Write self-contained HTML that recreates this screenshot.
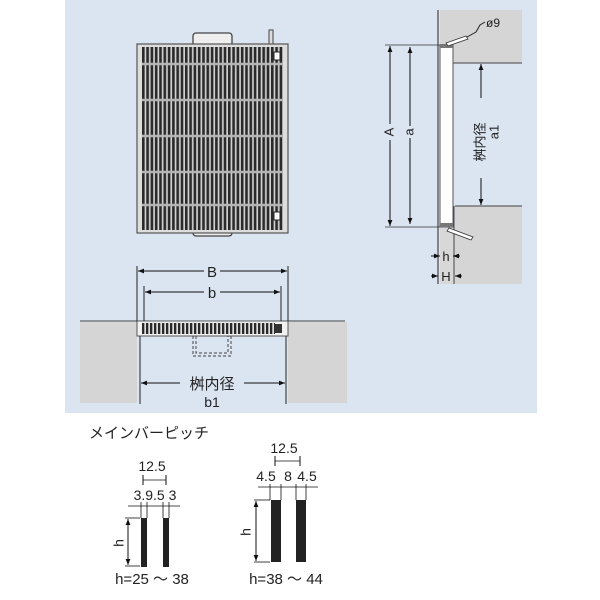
<!DOCTYPE html>
<html><head><meta charset="utf-8"><style>
body{margin:0;background:#fff}
svg{display:block}
text{font-family:"Liberation Sans","Noto Sans CJK JP",sans-serif;fill:#222}
</style></head><body>
<svg width="600" height="600" viewBox="0 0 600 600" xmlns="http://www.w3.org/2000/svg">
<defs>
<marker id="ar" viewBox="0 0 10 10" refX="10" refY="5" markerWidth="6" markerHeight="6" orient="auto-start-reverse"><path d="M0,1 L10,5 L0,9 z" fill="#111"/></marker>
<pattern id="vb" x="142" y="0" width="4.3" height="10" patternUnits="userSpaceOnUse"><rect width="4.3" height="10" fill="#d0d0d0"/><rect x="0" width="2.6" height="10" fill="#2a2a2a"/></pattern>
<pattern id="vb2" x="142" y="0" width="4" height="10" patternUnits="userSpaceOnUse"><rect width="4" height="10" fill="#ddd"/><rect x="0" width="2.3" height="10" fill="#2a2a2a"/></pattern>
</defs>
<rect x="65" y="0" width="472" height="413" fill="#dbe5f1"/>

<!-- top view grating -->
<rect x="193" y="33" width="39" height="13" rx="3" fill="#eee" stroke="#444" stroke-width="1.3"/>
<rect x="193" y="224" width="39" height="12" rx="3" fill="#eee" stroke="#444" stroke-width="1.3"/>
<rect x="269" y="30" width="4" height="14" fill="#ddd" stroke="#444" stroke-width="1"/>
<rect x="137" y="44" width="151" height="189" fill="#ddd" stroke="#555" stroke-width="1.2"/>
<rect x="142" y="47" width="141" height="183" fill="url(#vb)"/>
<g stroke="#b5b5b5" stroke-width="2.5">
<line x1="142" y1="64" x2="283" y2="64"/><line x1="142" y1="100" x2="283" y2="100"/>
<line x1="142" y1="136" x2="283" y2="136"/><line x1="142" y1="172" x2="283" y2="172"/>
<line x1="142" y1="205" x2="283" y2="205"/></g>
<rect x="274" y="52" width="6" height="8" fill="#fff" stroke="#222"/>
<rect x="274" y="212" width="6" height="8" fill="#fff" stroke="#222"/>

<!-- side view -->
<rect x="440" y="10" width="82" height="35" fill="#d5d5d5"/>
<rect x="453" y="45" width="69" height="18" fill="#d5d5d5"/>
<rect x="455" y="206" width="67" height="78" fill="#d5d5d5"/>
<rect x="440" y="228" width="15" height="56" fill="#d8d8d8"/>
<line x1="438" y1="10" x2="438" y2="284" stroke="#444" stroke-width="1.2"/>
<line x1="453" y1="63" x2="522" y2="63" stroke="#444"/>
<line x1="455" y1="206" x2="522" y2="206" stroke="#444"/>
<line x1="454" y1="206" x2="454" y2="284" stroke="#444"/>
<rect x="440" y="45" width="13" height="182" fill="#fff" stroke="#555"/>
<rect x="440" y="44" width="13" height="4" fill="#777"/>
<rect x="440" y="223" width="13" height="4" fill="#777"/>
<path d="M446,43 L466,36 L468,39 L448,46z" fill="#fff" stroke="#333" stroke-width="0.8"/>
<path d="M449,228 L473,237 L471,240 L447,231z" fill="#fff" stroke="#333" stroke-width="0.8"/>
<polyline points="467,37 476,32 480,25 485,22" fill="none" stroke="#222"/>
<text x="486" y="27" font-size="12">ø9</text>
<g stroke="#333" stroke-width="0.8"><line x1="385" y1="45" x2="440" y2="45"/><line x1="385" y1="227" x2="440" y2="227"/></g>
<line x1="390" y1="46" x2="390" y2="226" stroke="#111" marker-start="url(#ar)" marker-end="url(#ar)"/>
<line x1="410" y1="47" x2="410" y2="224" stroke="#111" marker-start="url(#ar)" marker-end="url(#ar)"/>
<rect x="384" y="124" width="12" height="16" fill="#dbe5f1"/>
<text x="390" y="132" font-size="13" transform="rotate(-90 390 132)" text-anchor="middle" dominant-baseline="middle">A</text>
<rect x="404" y="126" width="12" height="12" fill="#dbe5f1"/>
<text x="410" y="132" font-size="13" transform="rotate(-90 410 132)" text-anchor="middle" dominant-baseline="middle">a</text>
<line x1="481" y1="64" x2="481" y2="205" stroke="#111" marker-start="url(#ar)" marker-end="url(#ar)"/>
<rect x="473" y="98" width="30" height="80" fill="#dbe5f1"/>
<text x="481" y="142" font-size="13" transform="rotate(-90 481 142)" text-anchor="middle" dominant-baseline="middle">桝内径</text>
<text x="495" y="132" font-size="13" transform="rotate(-90 495 132)" text-anchor="middle" dominant-baseline="middle">a1</text>
<line x1="431" y1="256" x2="440" y2="256" stroke="#111" marker-end="url(#ar)"/>
<line x1="460" y1="256" x2="453" y2="256" stroke="#111" marker-end="url(#ar)"/>
<text x="446" y="261" font-size="13" text-anchor="middle">h</text>
<line x1="431" y1="276" x2="438" y2="276" stroke="#111" marker-end="url(#ar)"/>
<line x1="462" y1="276" x2="455" y2="276" stroke="#111" marker-end="url(#ar)"/>
<text x="446" y="281" font-size="13" text-anchor="middle">H</text>

<!-- section view -->
<rect x="80" y="322" width="57" height="81" fill="#d5d5d5"/>
<rect x="288" y="322" width="59" height="81" fill="#d5d5d5"/>
<line x1="80" y1="321" x2="345" y2="321" stroke="#444"/>
<rect x="137" y="321" width="151" height="15" fill="#f2f2f2" stroke="#555"/>
<rect x="142" y="323" width="133" height="11" fill="url(#vb2)"/>
<rect x="275" y="324" width="7" height="9" fill="#333"/>
<path d="M193,336 V356 H231 V336" fill="none" stroke="#444" stroke-dasharray="3,2"/>
<path d="M196,336 V353 H228 V336" fill="none" stroke="#444" stroke-dasharray="3,2"/>
<g stroke="#222" stroke-width="1">
<line x1="137" y1="266" x2="137" y2="321"/><line x1="288" y1="266" x2="288" y2="321"/>
<line x1="144" y1="286" x2="144" y2="321"/><line x1="281" y1="286" x2="281" y2="321"/>
<line x1="140" y1="336" x2="140" y2="404"/><line x1="286" y1="336" x2="286" y2="404"/></g>
<line x1="138" y1="271" x2="287" y2="271" stroke="#111" marker-start="url(#ar)" marker-end="url(#ar)"/>
<rect x="204" y="263" width="16" height="16" fill="#dbe5f1"/><text x="212" y="277" font-size="15" text-anchor="middle">B</text>
<line x1="145" y1="292" x2="280" y2="292" stroke="#111" marker-start="url(#ar)" marker-end="url(#ar)"/>
<rect x="204" y="284" width="16" height="16" fill="#dbe5f1"/><text x="212" y="298" font-size="15" text-anchor="middle">b</text>
<line x1="141" y1="383" x2="285" y2="383" stroke="#111" marker-start="url(#ar)" marker-end="url(#ar)"/>
<rect x="180" y="373" width="64" height="18" fill="#dbe5f1"/>
<text x="212" y="389" font-size="15" text-anchor="middle">桝内径</text>
<text x="212" y="407" font-size="14" text-anchor="middle">b1</text>

<!-- main bar pitch -->
<text x="89" y="438" font-size="15">メインバーピッチ</text>
<text x="152" y="471" font-size="14" text-anchor="middle">12.5</text>
<line x1="143" y1="480" x2="166" y2="480" stroke="#111" stroke-width="0.8"/>
<line x1="143" y1="475" x2="143" y2="485" stroke="#111"/><line x1="166" y1="475" x2="166" y2="485" stroke="#111"/>
<text x="155" y="500" font-size="14" text-anchor="middle">3.9.5 3</text>
<line x1="128" y1="506" x2="180" y2="506" stroke="#111" stroke-width="0.8"/>
<g stroke="#111" stroke-width="0.8"><line x1="141" y1="502" x2="141" y2="518"/><line x1="147" y1="502" x2="147" y2="518"/><line x1="163" y1="502" x2="163" y2="518"/><line x1="169" y1="502" x2="169" y2="518"/></g>
<rect x="141" y="518" width="6" height="49" fill="#222"/>
<rect x="163" y="518" width="6" height="49" fill="#222"/>
<line x1="125" y1="518" x2="140" y2="518" stroke="#111" stroke-width="0.8"/>
<line x1="125" y1="566" x2="140" y2="566" stroke="#111" stroke-width="0.8"/>
<line x1="128" y1="519" x2="128" y2="565" stroke="#111" marker-start="url(#ar)" marker-end="url(#ar)"/>
<text x="120" y="543" font-size="14" text-anchor="middle" transform="rotate(-90 120 543)" dominant-baseline="middle">h</text>
<text x="152" y="584" font-size="15" text-anchor="middle">h=25 ～ 38</text>

<text x="284" y="453" font-size="14" text-anchor="middle">12.5</text>
<line x1="275" y1="461" x2="300" y2="461" stroke="#111" stroke-width="0.8"/>
<line x1="275" y1="456" x2="275" y2="466" stroke="#111"/><line x1="300" y1="456" x2="300" y2="466" stroke="#111"/>
<text x="266" y="481" font-size="14" text-anchor="middle">4.5</text>
<text x="288" y="481" font-size="14" text-anchor="middle">8</text>
<text x="307" y="481" font-size="14" text-anchor="middle">4.5</text>
<line x1="258" y1="487" x2="318" y2="487" stroke="#111" stroke-width="0.8"/>
<g stroke="#111" stroke-width="0.8"><line x1="270" y1="484" x2="270" y2="500"/><line x1="281" y1="484" x2="281" y2="500"/><line x1="296" y1="484" x2="296" y2="500"/><line x1="306" y1="484" x2="306" y2="500"/></g>
<rect x="271" y="500" width="10" height="62" fill="#222"/>
<rect x="296" y="500" width="10" height="62" fill="#222"/>
<line x1="254" y1="500" x2="270" y2="500" stroke="#111" stroke-width="0.8"/>
<line x1="254" y1="562" x2="270" y2="562" stroke="#111" stroke-width="0.8"/>
<line x1="256" y1="501" x2="256" y2="561" stroke="#111" marker-start="url(#ar)" marker-end="url(#ar)"/>
<text x="247" y="532" font-size="14" text-anchor="middle" transform="rotate(-90 247 532)" dominant-baseline="middle">h</text>
<text x="286" y="584" font-size="15" text-anchor="middle">h=38 ～ 44</text>
</svg>
</body></html>
